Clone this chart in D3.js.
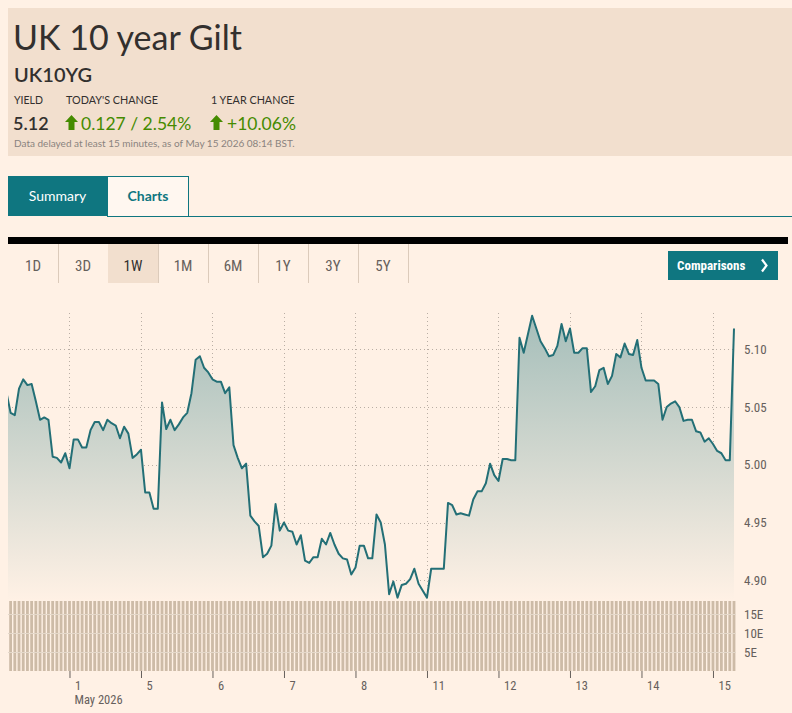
<!DOCTYPE html>
<html>
<head>
<meta charset="utf-8">
<script src="https://cdn.jsdelivr.net/npm/d3@7"></script>
<style>
  body { margin: 0; background: #fff1e5; }
  svg { display: block; }
</style>
</head>
<body>
<script>
// readings per session (30 Apr is partial, 15 May only the early prints)
var dayCounts = [15, 17, 17, 17, 17, 17, 17, 17, 17, 17, 6];
var dayLabels = ["1", "5", "6", "7", "8", "11", "12", "13", "14", "15"];
var yTicks = [4.90, 4.95, 5.00, 5.05, 5.10];
var volTicks = [5, 10, 15];
var periods = ["1D", "3D", "1W", "1M", "6M", "1Y", "3Y", "5Y"];

// yield readings, one row per session
var yields = [
  5.063, 5.045, 5.043, 5.066, 5.074, 5.069, 5.070, 5.055, 5.039, 5.041, 5.039, 5.007, 5.006, 5.002, 5.010,
  4.997, 5.022, 5.022, 5.015, 5.015, 5.030, 5.037, 5.037, 5.030, 5.039, 5.036, 5.034, 5.023, 5.033, 5.027, 5.006, 5.009,
  5.013, 4.976, 4.976, 4.962, 4.962, 5.054, 5.031, 5.039, 5.030, 5.035, 5.041, 5.045, 5.062, 5.091, 5.094, 5.084, 5.080,
  5.074, 5.072, 5.072, 5.062, 5.067, 5.017, 5.006, 4.997, 5.001, 4.956, 4.951, 4.947, 4.920, 4.923, 4.930, 4.966, 4.943,
  4.950, 4.943, 4.942, 4.931, 4.939, 4.917, 4.915, 4.920, 4.920, 4.936, 4.931, 4.941, 4.931, 4.923, 4.919, 4.918, 4.905,
  4.911, 4.930, 4.930, 4.919, 4.919, 4.957, 4.950, 4.931, 4.888, 4.899, 4.885, 4.896, 4.897, 4.901, 4.910, 4.897, 4.891,
  4.885, 4.910, 4.910, 4.910, 4.910, 4.967, 4.965, 4.957, 4.958, 4.957, 4.956, 4.970, 4.977, 4.977, 4.984, 5.001, 4.991,
  4.986, 5.005, 5.005, 5.004, 5.004, 5.110, 5.097, 5.113, 5.129, 5.118, 5.107, 5.101, 5.094, 5.095, 5.103, 5.122, 5.107,
  5.118, 5.097, 5.097, 5.101, 5.101, 5.063, 5.068, 5.082, 5.084, 5.070, 5.077, 5.096, 5.093, 5.105, 5.096, 5.095, 5.108,
  5.084, 5.073, 5.073, 5.073, 5.070, 5.039, 5.050, 5.053, 5.055, 5.050, 5.038, 5.039, 5.039, 5.029, 5.028, 5.020, 5.023,
  5.018, 5.012, 5.010, 5.004, 5.004, 5.118
];

// volume (E), every bar sits at the top of the panel
var volumes = [
  18.4, 18.4, 18.4, 18.4, 18.4, 18.4, 18.4, 18.4, 18.4, 18.4, 18.4, 18.4, 18.4, 18.4, 18.4,
  18.4, 18.4, 18.4, 18.4, 18.4, 18.4, 18.4, 18.4, 18.4, 18.4, 18.4, 18.4, 18.4, 18.4, 18.4, 18.4, 18.4,
  18.4, 18.4, 18.4, 18.4, 18.4, 18.4, 18.4, 18.4, 18.4, 18.4, 18.4, 18.4, 18.4, 18.4, 18.4, 18.4, 18.4,
  18.4, 18.4, 18.4, 18.4, 18.4, 18.4, 18.4, 18.4, 18.4, 18.4, 18.4, 18.4, 18.4, 18.4, 18.4, 18.4, 18.4,
  18.4, 18.4, 18.4, 18.4, 18.4, 18.4, 18.4, 18.4, 18.4, 18.4, 18.4, 18.4, 18.4, 18.4, 18.4, 18.4, 18.4,
  18.4, 18.4, 18.4, 18.4, 18.4, 18.4, 18.4, 18.4, 18.4, 18.4, 18.4, 18.4, 18.4, 18.4, 18.4, 18.4, 18.4,
  18.4, 18.4, 18.4, 18.4, 18.4, 18.4, 18.4, 18.4, 18.4, 18.4, 18.4, 18.4, 18.4, 18.4, 18.4, 18.4, 18.4,
  18.4, 18.4, 18.4, 18.4, 18.4, 18.4, 18.4, 18.4, 18.4, 18.4, 18.4, 18.4, 18.4, 18.4, 18.4, 18.4, 18.4,
  18.4, 18.4, 18.4, 18.4, 18.4, 18.4, 18.4, 18.4, 18.4, 18.4, 18.4, 18.4, 18.4, 18.4, 18.4, 18.4, 18.4,
  18.4, 18.4, 18.4, 18.4, 18.4, 18.4, 18.4, 18.4, 18.4, 18.4, 18.4, 18.4, 18.4, 18.4, 18.4, 18.4, 18.4,
  18.4, 18.4, 18.4, 18.4, 18.4, 18.4
];

var width = 792,
    height = 713;

var teal = "#0f7680",
    ink = "#33302e",
    grey = "#66605c",
    green = "#458b00",
    headerFont = "Lato, 'Open Sans', sans-serif",
    narrowFont = "'Liberation Sans Narrow', 'Roboto Condensed', 'Liberation Sans', sans-serif";

var svg = d3.select("body")
    .append("svg")
    .attr("width", width)
    .attr("height", height);

function text(g, x, y, str, size, color, extra) {
    var t = g.append("text")
        .attr("x", x)
        .attr("y", y)
        .attr("font-size", size)
        .attr("fill", color)
        .attr("font-family", headerFont)
        .text(str);
    if (extra) extra(t);
    return t;
}

function upArrow(g, x, y) {
    g.append("path")
        .attr("d", "M" + (x + 6.5) + "," + y + "L" + (x + 13) + "," + (y + 7) + "L" + (x + 9.5) + "," + (y + 7) +
            "L" + (x + 9.5) + "," + (y + 15) + "L" + (x + 3.5) + "," + (y + 15) + "L" + (x + 3.5) + "," + (y + 7) +
            "L" + x + "," + (y + 7) + "Z")
        .attr("fill", green);
}

// ---- header block
var header = svg.append("g");
header.append("rect")
    .attr("x", 8).attr("y", 8)
    .attr("width", 784).attr("height", 148)
    .attr("fill", "#f2dfce");

text(header, 13, 50, "UK 10 year Gilt", 34, ink);
text(header, 14, 82, "UK10YG", 20, ink, function(t) { t.attr("font-weight", 600); });
text(header, 14, 104, "YIELD", 10.5, ink);
text(header, 66, 104, "TODAY'S CHANGE", 10.8, ink);
text(header, 211, 104, "1 YEAR CHANGE", 10.8, ink);
text(header, 13, 130, "5.12", 18, ink, function(t) { t.attr("font-weight", 600); });
upArrow(header, 65, 115);
text(header, 81, 130, "0.127 / 2.54%", 17.5, green);
upArrow(header, 210, 115);
text(header, 227, 130, "+10.06%", 17.5, green);
text(header, 14, 147, "Data delayed at least 15 minutes, as of May 15 2026 08:14 BST.", 10, "#8a837e");

// ---- tabs
var tabs = svg.append("g");
tabs.append("line")
    .attr("x1", 189).attr("x2", 792)
    .attr("y1", 216.5).attr("y2", 216.5)
    .attr("stroke", teal);
tabs.append("rect")
    .attr("x", 8).attr("y", 176)
    .attr("width", 99).attr("height", 40)
    .attr("fill", teal);
tabs.append("rect")
    .attr("x", 107.5).attr("y", 176.5)
    .attr("width", 81).attr("height", 40)
    .attr("fill", "#fff7f0")
    .attr("stroke", teal);
text(tabs, 57.5, 201, "Summary", 14, "#fff", function(t) { t.attr("text-anchor", "middle"); });
text(tabs, 148, 201, "Charts", 14, teal, function(t) { t.attr("text-anchor", "middle").attr("font-weight", 700); });

// ---- period buttons
var bar = svg.append("g");
bar.append("rect")
    .attr("x", 8).attr("y", 237)
    .attr("width", 780).attr("height", 7)
    .attr("fill", "#000");

var btn = bar.selectAll("g.period")
    .data(periods)
    .enter()
    .append("g")
    .attr("class", "period")
    .attr("transform", function(d, i) { return "translate(" + (8 + i * 50) + ",244)"; });

btn.append("rect")
    .attr("width", 50).attr("height", 39)
    .attr("fill", function(d) { return d == "1W" ? "#f2dfce" : "none"; });
btn.append("line")
    .attr("x1", 50.5).attr("x2", 50.5)
    .attr("y1", 0).attr("y2", 39)
    .attr("stroke", "#dccbbb");
btn.append("text")
    .attr("x", 25).attr("y", 27)
    .attr("text-anchor", "middle")
    .attr("font-family", narrowFont)
    .attr("font-size", 15)
    .attr("fill", function(d) { return d == "1W" ? ink : grey; })
    .text(function(d) { return d; });

bar.append("rect")
    .attr("x", 668).attr("y", 251)
    .attr("width", 110).attr("height", 29)
    .attr("fill", teal);
bar.append("text")
    .attr("x", 677).attr("y", 270)
    .attr("font-family", narrowFont)
    .attr("font-weight", 700)
    .attr("font-size", 13)
    .attr("fill", "#fff")
    .text("Comparisons");
bar.append("path")
    .attr("d", "M762,259.5L766.5,265.5L762,271.5")
    .attr("fill", "none")
    .attr("stroke", "#fff")
    .attr("stroke-width", 2.2);

// ---- chart
var left = 8, right = 736,
    mainTop = 313, mainBottom = 600,
    volTop = 601, volBottom = 671;

// day start indices from the session counts
var dayStart = [];
var acc = 0;
dayCounts.forEach(function(c, i) {
    acc += c;
    if (i < dayCounts.length - 1) dayStart.push(acc);
});

var x = d3.scaleLinear()
    .domain([0, yields.length - 1])
    .range([6.4, 734]);

var y = d3.scaleLinear()
    .domain([4.90, 5.10])
    .range([580.3, 349.3]);

var yVol = d3.scaleLinear()
    .domain([0, 18.4])
    .range([volBottom, volTop]);

var defs = svg.append("defs");
var grad = defs.append("linearGradient")
    .attr("id", "fade")
    .attr("gradientUnits", "userSpaceOnUse")
    .attr("x1", 0).attr("x2", 0)
    .attr("y1", 310).attr("y2", mainBottom);
grad.append("stop").attr("offset", 0).attr("stop-color", "#a3bdb9");
grad.append("stop").attr("offset", 1).attr("stop-color", "#fff1e5");

defs.append("clipPath")
    .attr("id", "plot")
    .append("rect")
    .attr("x", left).attr("y", 290)
    .attr("width", right - left).attr("height", volBottom - 290);

var chart = svg.append("g");
var gridGroup = chart.append("g");
var plotGroup = chart.append("g").attr("clip-path", "url(#plot)");

gridGroup.selectAll("line.h")
    .data(yTicks)
    .enter()
    .append("line")
    .attr("class", "h")
    .attr("x1", left).attr("x2", right)
    .attr("y1", function(d) { return Math.round(y(d)) + 0.5; })
    .attr("y2", function(d) { return Math.round(y(d)) + 0.5; })
    .attr("stroke", "#b9aea4")
    .attr("stroke-dasharray", "1,3");

gridGroup.selectAll("line.v")
    .data(dayStart)
    .enter()
    .append("line")
    .attr("class", "v")
    .attr("x1", function(d) { return Math.round(x(d)) + 0.5; })
    .attr("x2", function(d) { return Math.round(x(d)) + 0.5; })
    .attr("y1", mainTop).attr("y2", mainBottom)
    .attr("stroke", "#b9aea4")
    .attr("stroke-dasharray", "1,3");

var area = d3.area()
    .x(function(d, i) { return x(i); })
    .y0(mainBottom)
    .y1(function(d) { return y(d); });

var line = d3.line()
    .x(function(d, i) { return x(i); })
    .y(function(d) { return y(d); });

plotGroup.append("path")
    .datum(yields)
    .attr("d", area)
    .attr("fill", "url(#fade)");

plotGroup.append("path")
    .datum(yields)
    .attr("d", line)
    .attr("fill", "none")
    .attr("stroke", "#236f76")
    .attr("stroke-width", 2)
    .attr("stroke-linejoin", "round");

// volume bars
plotGroup.selectAll("rect.vol")
    .data(volumes)
    .enter()
    .append("rect")
    .attr("class", "vol")
    .attr("x", function(d, i) { return x(i) - 1.4; })
    .attr("width", 2.8)
    .attr("y", function(d) { return yVol(d); })
    .attr("height", function(d) { return volBottom - yVol(d); })
    .attr("fill", "#cdbba7");

chart.selectAll("line.vg")
    .data(volTicks)
    .enter()
    .append("line")
    .attr("class", "vg")
    .attr("x1", left).attr("x2", right)
    .attr("y1", function(d) { return Math.round(yVol(d)) + 0.5; })
    .attr("y2", function(d) { return Math.round(yVol(d)) + 0.5; })
    .attr("stroke", "#e4d8ca")
    .attr("stroke-width", 1);

// right axes
var yAxis = chart.append("g")
    .attr("transform", "translate(744,0)")
    .call(d3.axisRight(y)
        .tickValues(yTicks)
        .tickSize(0)
        .tickPadding(0)
        .tickFormat(d3.format(".2f")));

var volAxis = chart.append("g")
    .attr("transform", "translate(744,0)")
    .call(d3.axisRight(yVol)
        .tickValues(volTicks)
        .tickSize(0)
        .tickPadding(0)
        .tickFormat(function(d) { return d + "E"; }));

[yAxis, volAxis].forEach(function(g) {
    g.select(".domain").remove();
    g.selectAll("text")
        .attr("font-family", narrowFont)
        .attr("font-size", 13)
        .attr("fill", grey);
});

// bottom axis with day ticks
var xAxis = chart.append("g")
    .attr("transform", "translate(0," + volBottom + ")")
    .call(d3.axisBottom(x)
        .tickValues(dayStart)
        .tickSize(7)
        .tickPadding(3)
        .tickFormat(function(d, i) { return dayLabels[i]; }));

xAxis.select(".domain").remove();
xAxis.selectAll("line").attr("stroke", grey);
xAxis.selectAll("text")
    .attr("text-anchor", "start")
    .attr("dx", 5)
    .attr("font-family", narrowFont)
    .attr("font-size", 12.5)
    .attr("fill", grey);

chart.append("text")
    .attr("x", Math.round(x(dayStart[0])) + 5.5)
    .attr("y", 704)
    .attr("font-family", narrowFont)
    .attr("font-size", 12.5)
    .attr("fill", grey)
    .text("May 2026");
</script>
</body>
</html>
